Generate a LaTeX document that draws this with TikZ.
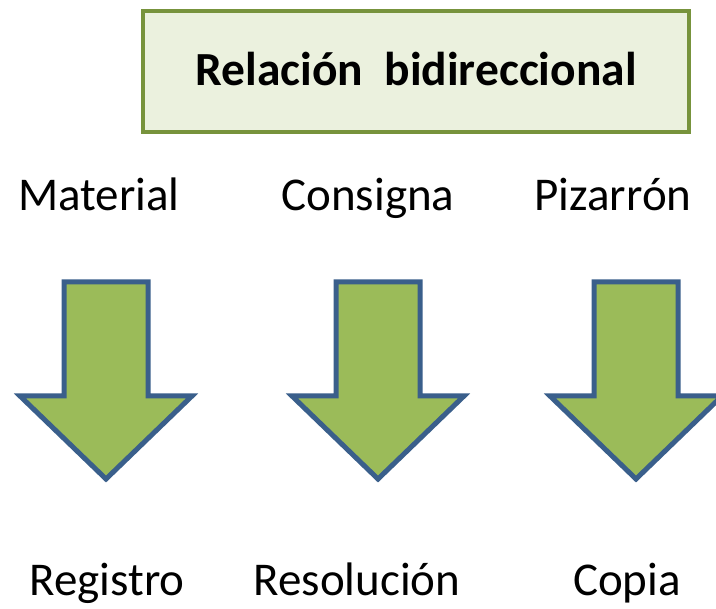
\documentclass[tikz,border=0pt]{standalone}
\usepackage{fontspec}
\setmainfont{Carlito}
\definecolor{boxline}{HTML}{77933C}
\definecolor{boxfill}{HTML}{EBF1DE}
\definecolor{arrline}{HTML}{3A5F8B}
\definecolor{arrfill}{HTML}{9BBB59}
\begin{document}
\begin{tikzpicture}[x=1pt,y=-1pt,
  lbl/.style={anchor=base,inner sep=0pt,font=\fontsize{47}{50}\selectfont},
  title/.style={anchor=base,inner sep=0pt,font=\fontsize{47.5}{50}\selectfont\bfseries},
  downarrow/.style={draw=arrline,fill=arrfill,line width=5pt,line join=miter}]
\useasboundingbox (0,0) rectangle (716,609);
\fill[white] (0,0) rectangle (716,609);
\node[draw=boxline,fill=boxfill,line width=4.5pt,minimum width=546pt,minimum height=121pt,inner sep=0pt] (box) at (416,71.5) {};
\node[title] (t) at (416,86) {Relación\ \ bidireccional};
\node[lbl] (m) at (99,211) {Material};
\node[lbl] (c) at (368,211) {Consigna};
\node[lbl] (p) at (613,211) {Pizarrón};
\foreach \cx/\nm in {106/a1,378/a2,636/a3}{
  \draw[downarrow] (\cx-42,282) -- (\cx+42,282) -- (\cx+42,396) -- (\cx+86,396) -- (\cx,479) -- (\cx-86,396) -- (\cx-42,396) -- cycle;
}
\node[lbl] (r) at (107,596) {Registro};
\node[lbl] (s) at (357,596) {Resolución};
\node[lbl] (co) at (627,596) {Copia};
\end{tikzpicture}
\end{document}
